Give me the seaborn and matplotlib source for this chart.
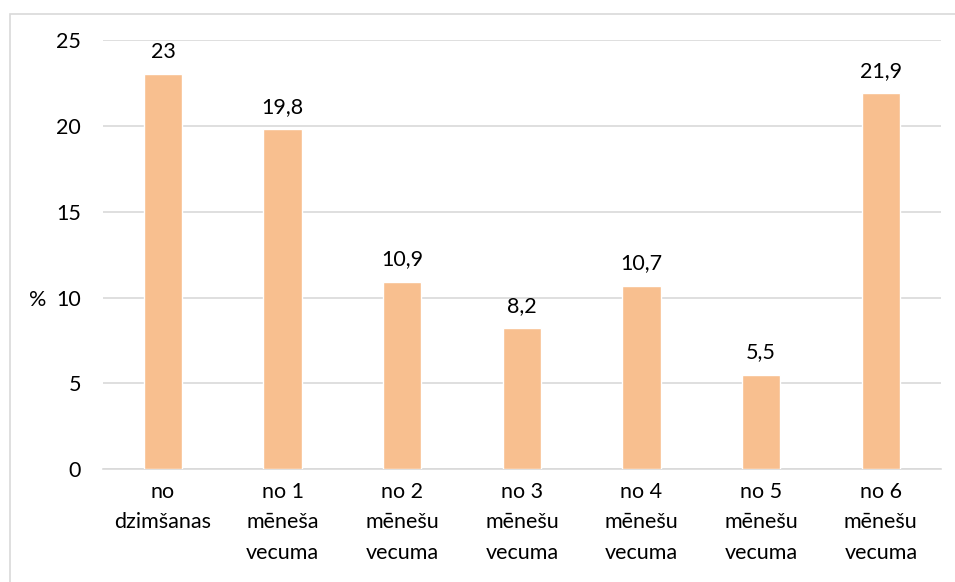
import pandas as pd
import seaborn as sns
import matplotlib.pyplot as plt
from matplotlib.patches import Rectangle

categories = ["no\ndzimšanas", "no 1\nmēneša\nvecuma", "no 2\nmēnešu\nvecuma",
              "no 3\nmēnešu\nvecuma", "no 4\nmēnešu\nvecuma", "no 5\nmēnešu\nvecuma",
              "no 6\nmēnešu\nvecuma"]
values = [23, 19.8, 10.9, 8.2, 10.7, 5.5, 21.9]
value_labels = ["23", "19,8", "10,9", "8,2", "10,7", "5,5", "21,9"]
yticks = [0, 5, 10, 15, 20, 25]

df = pd.DataFrame({"cat": categories, "val": values})

sns.set_style("white")
plt.rcParams["font.family"] = ["Lato", "DejaVu Sans"]
fs = 15.5

fig = plt.figure(figsize=(9.55, 5.82), dpi=100)
ax = fig.add_axes([0.108, 0.194, 0.877, 0.737])

sns.barplot(data=df, x="cat", y="val", color="#F8BF8F", saturation=1,
            width=0.32, ax=ax, zorder=3)

for i, (v, lab) in enumerate(zip(values, value_labels)):
    ax.annotate(lab, (i, v), xytext=(0, 9), textcoords="offset points",
                ha="center", va="bottom", fontsize=fs, color="#000000")

ax.set_ylim(0, 25)
ax.set_yticks(yticks)
ax.set_yticklabels([str(t) for t in yticks])
ax.set_xlim(-0.5, len(values) - 0.5)
ax.grid(axis="y", color="#d9d9d9", linewidth=1.2, zorder=0)
for s in ["top", "right", "left"]:
    ax.spines[s].set_visible(False)
ax.spines["bottom"].set_color("#d9d9d9")
ax.spines["bottom"].set_linewidth(1.2)

ax.tick_params(axis="y", length=0, pad=16, labelsize=fs, labelcolor="#000000")
ax.tick_params(axis="x", length=0, pad=9, labelsize=fs, labelcolor="#000000")
for t in ax.get_xticklabels():
    t.set_linespacing(1.67)
ax.set_xlabel("")
ax.set_ylabel("%", rotation=0, fontsize=fs, va="center", ha="center", color="#000000")
ax.yaxis.set_label_coords(-0.078, 0.395)

fig.patches.append(Rectangle((10 / 955, -0.1), 1.2, 1 - 14 / 582 + 0.1,
                             transform=fig.transFigure, fill=False,
                             edgecolor="#d9d9d9", linewidth=1.2))

plt.savefig("out.png", dpi=100)
